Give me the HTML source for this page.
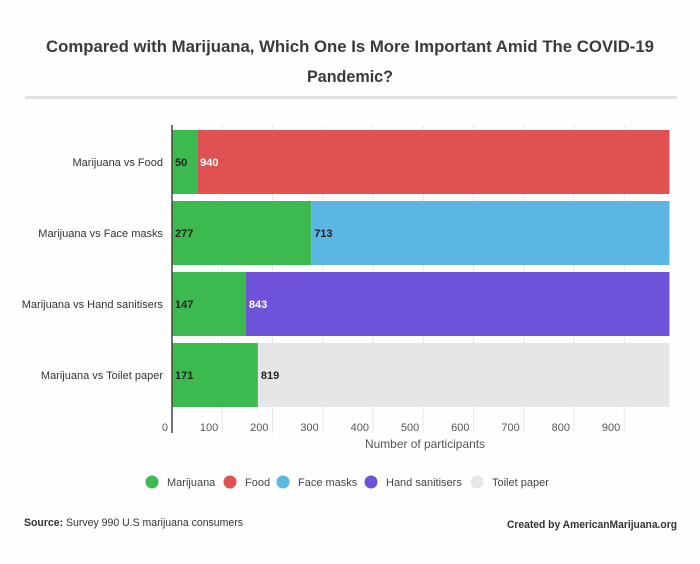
<!DOCTYPE html>
<html><head><meta charset="utf-8"><style>
body{margin:0;background:#fff;}
svg{display:block;font-family:"Liberation Sans",sans-serif;}
</style></head><body>
<svg id="chart" width="700" height="564" viewBox="0 0 700 564">
<rect width="700" height="564" fill="#fefefe"/>
<text x="350" y="52" text-anchor="middle" font-size="17" font-weight="bold" fill="#3a3a3a" textLength="608" lengthAdjust="spacingAndGlyphs">Compared with Marijuana, Which One Is More Important Amid The COVID-19</text>
<text x="350" y="82" text-anchor="middle" font-size="17" font-weight="bold" fill="#3a3a3a" textLength="86" lengthAdjust="spacingAndGlyphs">Pandemic?</text>
<rect x="25" y="96" width="652" height="3" fill="#e2e2e2"/>
<g id="grid"></g>
<g id="bars"></g>
<g id="ticks"></g>
<line x1="172" y1="125" x2="172" y2="433" stroke="#444" stroke-width="1.5"/>
<text x="425" y="448" text-anchor="middle" font-size="12" fill="#555" textLength="120" lengthAdjust="spacingAndGlyphs">Number of participants</text>
<g id="legend"></g>
<text x="24" y="526" font-size="11" fill="#333" textLength="219" lengthAdjust="spacingAndGlyphs"><tspan font-weight="bold">Source:</tspan> Survey 990 U.S marijuana consumers</text>
<text x="677" y="528" text-anchor="end" font-size="11" font-weight="bold" fill="#333" textLength="170" lengthAdjust="spacingAndGlyphs">Created by AmericanMarijuana.org</text>
</svg>
<script>
const categories = ["Marijuana vs Food","Marijuana vs Face masks","Marijuana vs Hand sanitisers","Marijuana vs Toilet paper"];
const marijuanaValues = [50,277,147,171];
const otherValues = [940,713,843,819];
const otherNames = ["Food","Face masks","Hand sanitisers","Toilet paper"];
const tickValues = [0,100,200,300,400,500,600,700,800,900];
const legendNames = ["Marijuana","Food","Face masks","Hand sanitisers","Toilet paper"];

const NS="http://www.w3.org/2000/svg";
const otherColors=["#e05252","#5bb6e2","#6e52d9","#e6e5e8"];
const otherText=["#fff","#222","#fff","#222"];
const greenC="#3dba4f";
const x0=172, pxPer=0.5025;
const xs=v=>x0+v*pxPer;
const rowTop=126, rowH=71, barH=64;
const ys=i=>rowTop+i*rowH+4;
function mk(t,a,p){const e=document.createElementNS(NS,t);for(const k in a)e.setAttribute(k,a[k]);(p||document.getElementById('chart')).appendChild(e);return e;}
const grid=document.getElementById('grid'),bars=document.getElementById('bars'),ticks=document.getElementById('ticks'),legend=document.getElementById('legend');
tickValues.forEach(v=>{
 if(v>0){const l=mk('line',{x1:xs(v),x2:xs(v),y1:125,y2:433,stroke:'#e8e8e8','stroke-width':1},grid);
 
 }
 const t=mk('text',{x:xs(v)-4,y:431,'text-anchor':'end','font-size':11,fill:'#555'},ticks);
 t.textContent=v;
 
 
});
categories.forEach((c,i)=>{
 const y=ys(i);
 const lab=mk('text',{x:163,y:y+barH/2+4,'text-anchor':'end','font-size':11,fill:'#333'},bars);
 lab.textContent=c;
 
 
 const g=mk('rect',{x:xs(0),y:y,width:xs(marijuanaValues[i])-xs(0),height:barH,fill:greenC},bars);
 
 
 const o=mk('rect',{x:xs(marijuanaValues[i]),y:y,width:xs(marijuanaValues[i]+otherValues[i])-xs(marijuanaValues[i]),height:barH,fill:otherColors[i]},bars);
 
 
 const t1=mk('text',{x:xs(0)+3,y:y+barH/2+4,'font-size':11,'font-weight':'bold',fill:'#222'},bars);
 t1.textContent=marijuanaValues[i];
 
 
 const t2=mk('text',{x:xs(marijuanaValues[i])+3,y:y+barH/2+4,'font-size':11,'font-weight':'bold',fill:otherText[i]},bars);
 t2.textContent=otherValues[i];
 
 
});
const legColors=[greenC].concat(otherColors);
const legX=[152,230,283,371,477];
legendNames.forEach((n,i)=>{
 const g=mk('g',{},legend);
 
 
 mk('circle',{cx:legX[i],cy:482,r:6.5,fill:legColors[i]},g);
 const t=mk('text',{x:legX[i]+15,y:486,'font-size':11,fill:'#444'},g);
 t.textContent=n;
});
</script>
</body></html>
